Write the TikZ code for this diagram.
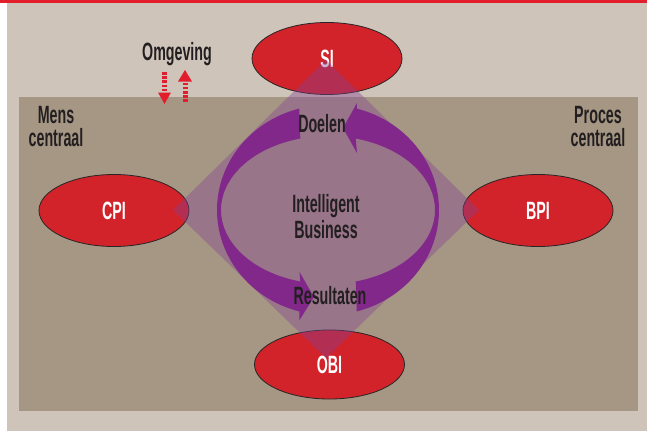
\documentclass[tikz,border=0pt]{standalone}
\usepackage{fontspec}
\newfontfamily\cf{Liberation Sans}[FakeStretch=0.57]
\usetikzlibrary{shapes.geometric}
\definecolor{outerbg}{RGB}{206,196,185}
\definecolor{innerbg}{RGB}{166,151,132}
\definecolor{topred}{RGB}{226,30,45}
\definecolor{ellred}{RGB}{210,34,42}
\definecolor{ringpurple}{RGB}{130,40,138}
\definecolor{diampurple}{RGB}{131,66,146}
\definecolor{txt}{RGB}{35,31,32}
\tikzset{
  lbl/.style={font=\cf\bfseries\fontsize{25}{23}\selectfont, text=txt, align=center, inner sep=0pt},
  ell/.style={ellipse, draw=black!85, line width=0.8pt, fill=ellred, minimum width=150pt, minimum height=72pt, inner sep=0pt,
    font=\cf\bfseries\fontsize{25}{24}\selectfont, text=white},
  dashshaft/.style={draw=topred, line width=5pt, dash pattern=on 2.6pt off 1.6pt},
  headfill/.style={fill=topred},
}
\begin{document}
\begin{tikzpicture}[x=1pt,y=-1pt]
\useasboundingbox (0,0) rectangle (647,431);
\fill[white] (0,0) rectangle (647,431);
\fill[outerbg] (7,0) rectangle (647,431);
\fill[topred] (0,0) rectangle (647,3);
\fill[innerbg] (19,97) rectangle (638,411);

% ellipses
\node[ell] (si) at (327,58.5) {SI};
\node[ell, minimum height=69pt] (obi) at (329.5,364.5) {OBI};
\node[ell] (cpi) at (114,210.5) {CPI};
\node[ell] (bpi) at (538,210.5) {BPI};

% diamond
\fill[diampurple, fill opacity=0.4] (326,60) -- (479,210) -- (326,358) -- (173,210) -- cycle;

% ring arrows
\fill[ringpurple] plot[domain=255:105, samples=60] ({328+111*cos(\x)},{210+105*sin(\x)})
  -- (299.5,320) -- (314,297) -- (299.5,272)
  -- plot[domain=105:255, samples=60] ({328+107*cos(\x)},{210+74*sin(\x)}) -- cycle;
\fill[ringpurple] plot[domain=75:-75, samples=60] ({328+111*cos(\x)},{210+105*sin(\x)})
  -- (357,103) -- (343,128) -- (357,153)
  -- plot[domain=-75:75, samples=60] ({328+107*cos(\x)},{210+74*sin(\x)}) -- cycle;

% labels
\node[lbl] (omg) at (177,54) {Omgeving};
\node[lbl] (mens) at (56,127) {Mens\\centraal};
\node[lbl] (proc) at (598,127) {Proces\\centraal};
\node[lbl] (doel) at (322,124) {Doelen};
\node[lbl, font=\cf\bfseries\fontsize{25}{26}\selectfont] (ib) at (326,217) {Intelligent\\Business};
\node[lbl] (res) at (330,296) {Resultaten};

% omgeving arrows
\coordinate (d1) at (164.5,72);
\coordinate (d2) at (164.5,93);
\draw[dashshaft] (d1) -- (d2);
\fill[headfill] (158,92.5) -- (171,92.5) -- (164.5,104) -- cycle;
\coordinate (u1) at (185,102);
\coordinate (u2) at (185,82);
\draw[dashshaft] (u1) -- (u2);
\fill[headfill] (178,81.5) -- (192,81.5) -- (185,70) -- cycle;
\end{tikzpicture}
\end{document}
